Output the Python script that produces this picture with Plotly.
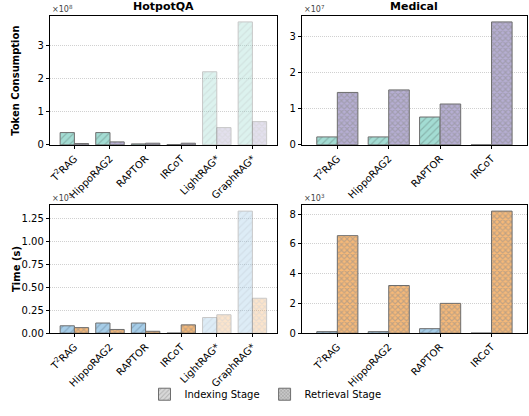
import plotly.graph_objects as go

# ---- data ----
methods_hotpot = ["T²RAG", "HippoRAG2", "RAPTOR", "IRCoT", "LightRAG*", "GraphRAG*"]
methods_medical = ["T²RAG", "HippoRAG2", "RAPTOR", "IRCoT"]
tick_hotpot = ["T<sup>2</sup>RAG", "HippoRAG2", "RAPTOR", "IRCoT", "LightRAG*", "GraphRAG*"]
tick_medical = ["T<sup>2</sup>RAG", "HippoRAG2", "RAPTOR", "IRCoT"]

# token consumption
tok_hotpot_index = [0.37e8, 0.37e8, 0.03e8, 0.01e8, 2.20e8, 3.70e8]
tok_hotpot_retr = [0.04e8, 0.09e8, 0.05e8, 0.05e8, 0.52e8, 0.70e8]
tok_med_index = [0.22e7, 0.22e7, 0.77e7, 0.0]
tok_med_retr = [1.45e7, 1.52e7, 1.13e7, 3.40e7]

# time (s)
time_hotpot_index = [0.08e5, 0.11e5, 0.11e5, 0.0, 0.17e5, 1.33e5]
time_hotpot_retr = [0.06e5, 0.04e5, 0.02e5, 0.09e5, 0.20e5, 0.38e5]
time_med_index = [0.10e3, 0.10e3, 0.30e3, 0.0]
time_med_retr = [6.55e3, 3.20e3, 2.00e3, 8.20e3]

# starred methods are drawn faded
faded_hotpot = [1, 1, 1, 1, 0.38, 0.38]
faded_medical = [1, 1, 1, 1]

TEAL = "#a3dcd3"
LAV = "#b6aed3"
BLUE = "#a6cde8"
ORANGE = "#f7b978"
EDGE = "#6e6e6e"
FONT = "DejaVu Sans"

W, H = 529, 416
def px_x(a, b):
    return [a / W, b / W]
def px_y(top, bottom):
    return [1 - bottom / H, 1 - top / H]

panels = [
    ("", px_x(48, 276), px_y(16, 147), methods_hotpot, tick_hotpot, tok_hotpot_index, tok_hotpot_retr,
     1e8, "8", (TEAL, LAV), faded_hotpot, [0, 1, 2, 3], ["0", "1", "2", "3"]),
    ("2", px_x(301, 527), px_y(16, 147), methods_medical, tick_medical, tok_med_index, tok_med_retr,
     1e7, "7", (TEAL, LAV), faded_medical, [0, 1, 2, 3], ["0", "1", "2", "3"]),
    ("3", px_x(48, 276), px_y(208, 338), methods_hotpot, tick_hotpot, time_hotpot_index, time_hotpot_retr,
     1e5, "5", (BLUE, ORANGE), faded_hotpot, [0, 0.25, 0.5, 0.75, 1.0, 1.25],
     ["0.00", "0.25", "0.50", "0.75", "1.00", "1.25"]),
    ("4", px_x(301, 527), px_y(208, 338), methods_medical, tick_medical, time_med_index, time_med_retr,
     1e3, "3", (BLUE, ORANGE), faded_medical, [0, 2, 4, 6, 8], ["0", "2", "4", "6", "8"]),
]

fig = go.Figure()
annotations = []

for (sfx, xd, yd, cats, ticks, idx, ret, scale, exp, cols, opac, yt, ytt) in panels:
    xa, ya = "x" + sfx, "y" + sfx
    idx_s = [v / scale for v in idx]
    ret_s = [v / scale for v in ret]
    hatch_fg = "#6f8f8a" if cols[0] == TEAL else "#6d8aa0"
    fig.add_trace(go.Bar(
        x=cats, y=idx_s, xaxis=xa, yaxis=ya, showlegend=False, offsetgroup="index",
        marker=dict(color=cols[0], opacity=opac, line=dict(color=EDGE, width=1),
                    pattern=dict(shape="/", size=5, solidity=0.25, fgcolor=hatch_fg, fillmode="overlay")),
    ))
    fig.add_trace(go.Bar(
        x=cats, y=ret_s, xaxis=xa, yaxis=ya, showlegend=False, offsetgroup="retr",
        marker=dict(color=cols[1], opacity=opac, line=dict(color=EDGE, width=1),
                    pattern=dict(shape="x", size=4, solidity=0.5, fgcolor="#8c8c8c", fillmode="overlay")),
    ))
    ymax = max(idx_s + ret_s) * 1.05
    n = len(cats)
    fig.update_layout(**{
        ("xaxis" + sfx): dict(
            domain=xd, anchor=ya, type="category", categoryorder="array", categoryarray=cats,
            range=[-0.69, n - 1 + 0.69], tickmode="array", tickvals=cats, ticktext=ticks,
            tickangle=-45, ticks="outside", ticklen=3, tickcolor="black",
            showline=True, linecolor="black", linewidth=1, mirror=True, showgrid=False,
            tickfont=dict(family=FONT, size=10, color="black"),
        ),
        ("yaxis" + sfx): dict(
            domain=yd, anchor=xa, range=[0, ymax], tickmode="array", tickvals=yt, ticktext=ytt,
            ticks="outside", ticklen=3, tickcolor="black",
            showline=True, linecolor="black", linewidth=1, mirror=True,
            showgrid=True, gridcolor="#d0d0d0", griddash="1px,1px", gridwidth=1, zeroline=False,
            tickfont=dict(family=FONT, size=10, color="black"),
        ),
    })
    annotations.append(dict(
        x=xd[0], y=yd[1], xref="paper", yref="paper", xanchor="left", yanchor="bottom",
        text=f"×10<sup>{exp}</sup>", showarrow=False, font=dict(family=FONT, size=8, color="#444"),
    ))

# titles and axis labels
annotations += [
    dict(x=(48 + 276) / 2 / W, y=1 - 7 / H, xref="paper", yref="paper", text="<b>HotpotQA</b>",
         showarrow=False, xanchor="center", yanchor="middle", font=dict(family=FONT, size=11, color="black")),
    dict(x=(301 + 527) / 2 / W, y=1 - 7 / H, xref="paper", yref="paper", text="<b>Medical</b>",
         showarrow=False, xanchor="center", yanchor="middle", font=dict(family=FONT, size=11, color="black")),
    dict(x=14 / W, y=1 - 82 / H, xref="paper", yref="paper", text="<b>Token Consumption</b>",
         textangle=-90, showarrow=False, xanchor="center", yanchor="middle",
         font=dict(family=FONT, size=10, color="black")),
    dict(x=14 / W, y=1 - 273 / H, xref="paper", yref="paper", text="<b>Time (s)</b>",
         textangle=-90, showarrow=False, xanchor="center", yanchor="middle",
         font=dict(family=FONT, size=10, color="black")),
]

# legend entries live on a hidden axis so they do not affect bar grouping
fig.add_trace(go.Bar(x=[None], y=[None], name="Indexing Stage", showlegend=True, xaxis="x5", yaxis="y5",
                     marker=dict(color="#d9d9d9", line=dict(color=EDGE, width=1),
                                 pattern=dict(shape="/", size=4, solidity=0.3, fgcolor="#888"))))
fig.add_trace(go.Bar(x=[None], y=[None], name="Retrieval Stage", showlegend=True, xaxis="x5", yaxis="y5",
                     marker=dict(color="#c8c8c8", line=dict(color=EDGE, width=1),
                                 pattern=dict(shape="x", size=3, solidity=0.5, fgcolor="#888"))))

fig.update_layout(
    xaxis5=dict(domain=[0, 0.01], anchor="y5", visible=False),
    yaxis5=dict(domain=[0, 0.01], anchor="x5", visible=False),
    width=W, height=H, margin=dict(l=0, r=0, t=0, b=0),
    paper_bgcolor="white", plot_bgcolor="white",
    barmode="group", bargap=0.2, bargroupgap=0,
    annotations=annotations,
    legend=dict(orientation="h", x=0.5, y=1 - 400 / H, xanchor="center", yanchor="middle",
                font=dict(family=FONT, size=10, color="black"), itemwidth=30,
                bgcolor="rgba(0,0,0,0)"),
    font=dict(family=FONT),
)

fig.write_html("out.html")
